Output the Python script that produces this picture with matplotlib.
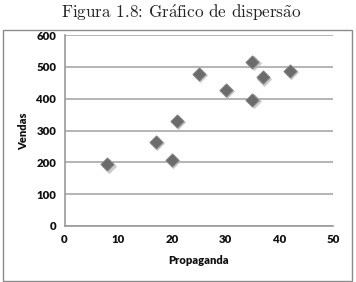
import matplotlib
matplotlib.use("Agg")
import matplotlib.pyplot as plt
from matplotlib.patches import Rectangle

plt.rcParams["mathtext.fontset"] = "cm"
plt.rcParams["axes.formatter.use_mathtext"] = False

propaganda = [8, 17, 20, 21, 25, 30, 35, 35, 37, 42]
vendas = [194, 265, 208, 331, 477, 428, 515, 397, 467, 488]
xticks = [0, 10, 20, 30, 40, 50]
yticks = [0, 100, 200, 300, 400, 500, 600]

W, H = 356, 282
fig = plt.figure(figsize=(W / 100, H / 100), dpi=100)
fig.patch.set_facecolor("white")

# outer chart frame
fig.patches.append(Rectangle((3 / W, 1 - 281 / H), 349 / W, 251 / H,
                             transform=fig.transFigure, fill=False,
                             edgecolor="#8c8c8c", linewidth=1.0))

title = r"Figura 1.8: Gr$\acute{\rm a}$fico de dispers$\tilde{\rm a}$o"
fig.text(181 / W, 1 - 13 / H, title, family="cmr10",
         ha="center", va="center", fontsize=12.3, color="#222222")

ax = fig.add_axes([64.5 / W, 1 - 226 / H, (333 - 64.5) / W, (226 - 35) / H])
ax.set_xlim(0, 50)
ax.set_ylim(0, 600)
ax.set_xticks(xticks)
ax.set_yticks(yticks)
ax.grid(axis="y", color="#a8a8a8", linewidth=1.2)
ax.set_axisbelow(True)
for s in ["top", "right"]:
    ax.spines[s].set_visible(False)
for s in ["left", "bottom"]:
    ax.spines[s].set_color("#9a9a9a")
    ax.spines[s].set_linewidth(1.2)
ax.tick_params(length=0, pad=6, labelsize=8.2, colors="#111111")
for lab in ax.get_xticklabels() + ax.get_yticklabels():
    lab.set_fontweight("heavy")
    lab.set_family("Lato")

# shadow then marker
ax.scatter([p + 0.2 for p in propaganda], [v - 4 for v in vendas], marker="D", s=60,
           color="#b5b5b5", linewidths=0, alpha=0.7, zorder=2)
ax.scatter(propaganda, vendas, marker="D", s=46, color="#6b6b6b",
           edgecolors="#888888", linewidths=0.6, zorder=3)

fig.text(199 / W, 1 - 261 / H, "Propaganda", ha="center", va="center",
         fontsize=8, fontweight="heavy", family="Lato", color="#111111")
fig.text(24 / W, 1 - 131 / H, "Vendas", ha="center", va="center", rotation=90,
         fontsize=8, fontweight="heavy", family="Lato", color="#111111")

fig.savefig("out.png", dpi=100)
